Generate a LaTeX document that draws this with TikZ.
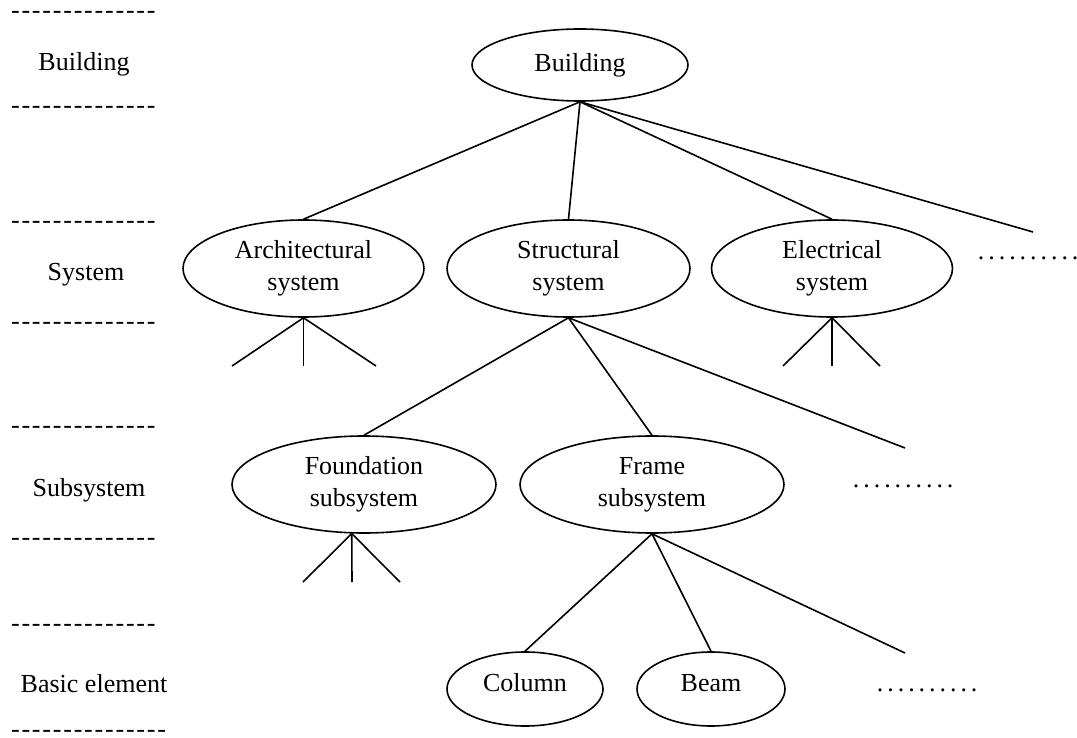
\documentclass[tikz,border=0pt]{standalone}
\usepackage{fontspec}
\setmainfont{Liberation Serif}
\usetikzlibrary{shapes.geometric}

% a row of evenly spaced characters
\newcommand{\charrow}[2]{\foreach \k in {1,...,#1}{\makebox[10.45pt]{#2}}}

\tikzset{
  txt/.style={font=\fontsize{26}{32}\selectfont},
  unit/.style={txt, ellipse, draw, line width=1.6pt, inner sep=0pt, align=center},
  sys/.style={minimum width=241pt, minimum height=97pt},
  sub/.style={minimum width=264pt, minimum height=97pt},
  elem/.style={minimum height=74pt, text depth=13pt},
  link/.style={line width=1.6pt},
  lvl/.style={txt, inner sep=0pt, anchor=base},
  sep/.style={txt, inner sep=0pt, anchor=base west},
  more/.style={txt, inner sep=0pt, anchor=base west},
}

\begin{document}
\begin{tikzpicture}[x=1pt, y=-1pt]
\useasboundingbox (0,0) rectangle (1077,738);

% level captions and separators
\node[sep] (s1) at (10,19)  {\charrow{14}{-}};
\node[lvl] (l1) at (84,71)  {Building};
\node[sep] (s2) at (10,114) {\charrow{14}{-}};
\node[sep] (s3) at (10,229) {\charrow{14}{-}};
\node[lvl] (l2) at (86,280) {System};
\node[sep] (s4) at (10,330) {\charrow{14}{-}};
\node[sep] (s5) at (10,433) {\charrow{14}{-}};
\node[lvl] (l3) at (89,496) {Subsystem};
\node[sep] (s6) at (10,545) {\charrow{14}{-}};
\node[sep] (s7) at (10,631) {\charrow{14}{-}};
\node[lvl] (l4) at (94,692) {Basic element};
\node[sep] (s8) at (10,737.5) {\charrow{15}{-}};

% hierarchy
\node[unit, minimum width=216pt, minimum height=72pt] (bld) at (580,65) {Building};

\node[unit, sys] (arch)  at (303.5,268.5) {Architectural\\system};
\node[unit, sys, minimum width=243pt] (struc) at (568.5,268.5) {Structural\\system};
\node[unit, sys] (elec)  at (832,268.5)   {Electrical\\system};

\node[unit, sub] (found) at (364,484.5) {Foundation\\subsystem};
\node[unit, sub] (frame) at (652,484.5) {Frame\\subsystem};

\node[unit, elem, minimum width=156pt] (col)  at (525,689) {Column};
\node[unit, elem, minimum width=148pt] (beam) at (711,689) {Beam};

\node[more] (bldmoretxt)   at (975.75,260) {\charrow{10}{.}};
\node[more] (strucmoretxt) at (850.75,487) {\charrow{10}{.}};
\node[more] (framemoretxt) at (874.75,691) {\charrow{10}{.}};

% open branch ends
\coordinate (bldmore)   at (1033,232);
\coordinate (strucmore) at (905,448);
\coordinate (framemore) at (905,653);

\coordinate (archL) at (232,366);
\coordinate (archM) at (303.5,366);
\coordinate (archR) at (376,366);
\coordinate (elecL) at (783,366);
\coordinate (elecM) at (832,366);
\coordinate (elecR) at (880,366);
\coordinate (foundL) at (303,582);
\coordinate (foundM) at (352,582);
\coordinate (foundR) at (400,582);

% connectors
\draw[link] (bld.south) -- (arch.north);
\draw[link] (bld.south) -- (struc.north);
\draw[link] (bld.south) -- (elec.north);
\draw[link] (bld.south) -- (bldmore);

\draw[link] (struc.south) -- (found.north);
\draw[link] (struc.south) -- (frame.north);
\draw[link] (struc.south) -- (strucmore);

\draw[link] (frame.south) -- (col.north);
\draw[link] (frame.south) -- (beam.north);
\draw[link] (frame.south) -- (framemore);

\draw[link] (arch.south) -- (archL);
\draw[link] (arch.south) -- (archM);
\draw[link] (arch.south) -- (archR);
\draw[link] (elec.south) -- (elecL);
\draw[link] (elec.south) -- (elecM);
\draw[link] (elec.south) -- (elecR);
\draw[link] (found.-104) -- (foundL);
\draw[link] (found.-104) -- (foundM);
\draw[link] (found.-104) -- (foundR);
\end{tikzpicture}
\end{document}
